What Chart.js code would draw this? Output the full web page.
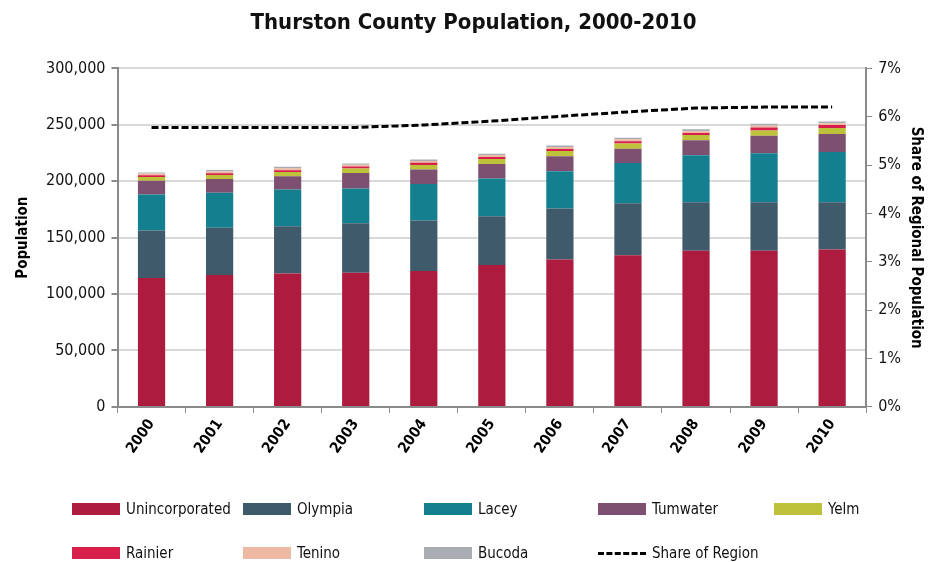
<!DOCTYPE html>
<html>
<head>
<meta charset="utf-8">
<script src="https://cdn.jsdelivr.net/npm/chart.js@4"></script>
<style>
  html, body { margin: 0; padding: 0; background: #fff; }
  #wrap { position: relative; width: 937px; height: 562px; }
  #legend { position: absolute; left: 0; top: 0; width: 937px; height: 562px; pointer-events: none;
            font-family: 'Liberation Sans Narrow', 'DejaVu Sans Condensed', sans-serif; font-size: 15px; color: #111; }
  .item { position: absolute; display: flex; align-items: center; white-space: nowrap; }
  .box { width: 48px; height: 12px; margin-right: 6px; }
  .dash { width: 48px; height: 0; border-top: 3px dashed #000; margin-right: 6px; }
</style>
</head>
<body>
<div id="wrap">
  <canvas id="popChart" width="937" height="562"></canvas>
  <div id="legend"></div>
</div>
<script>
const years = ['2000', '2001', '2002', '2003', '2004', '2005', '2006', '2007', '2008', '2009', '2010'];

// population by area (persons)
const unincorporated = [114200, 117000, 118300, 118900, 120400, 125700, 130700, 134500, 138300, 138300, 139600];
const olympia = [42200, 41700, 41900, 43900, 44800, 43300, 45100, 46000, 43100, 43100, 41800];
const lacey = [31800, 31000, 32400, 30700, 32400, 33400, 33000, 35700, 41600, 43400, 44500];
const tumwater = [12300, 12300, 11800, 13900, 12700, 12900, 13300, 12700, 13300, 15600, 16000];
const yelm = [3300, 3500, 3700, 3900, 4200, 4400, 4600, 4600, 4600, 4600, 5300];
const rainier = [1500, 1600, 1700, 1700, 1800, 1800, 1900, 1900, 1900, 2600, 2600];
const tenino = [1500, 1600, 1700, 1600, 1700, 1700, 1800, 1800, 1600, 1700, 1600];
const bucoda = [1000, 1200, 1300, 1200, 1200, 1200, 1300, 1300, 1700, 1600, 1600];

// county share of regional population (%)
const shareOfRegion = [5.78, 5.78, 5.78, 5.78, 5.83, 5.91, 6.01, 6.10, 6.18, 6.20, 6.20];

const popTicks = [0, 50000, 100000, 150000, 200000, 250000, 300000];

const fontFam = "'Liberation Sans Narrow', 'DejaVu Sans Condensed', sans-serif";

function bar(label, data, color) {
    return { type: 'bar', label: label, data: data, backgroundColor: color, yAxisID: 'y', order: 1 };
}

const chart = new Chart(document.getElementById('popChart').getContext('2d'), {
    data: {
        labels: years,
        datasets: [
            bar('Unincorporated', unincorporated, '#AD1C3E'),
            bar('Olympia', olympia, '#3F5A6B'),
            bar('Lacey', lacey, '#14808F'),
            bar('Tumwater', tumwater, '#7D4F70'),
            bar('Yelm', yelm, '#BEC13A'),
            bar('Rainier', rainier, '#D81E4A'),
            bar('Tenino', tenino, '#EDB9A2'),
            bar('Bucoda', bucoda, '#A9ADB3'),
            {
                type: 'line',
                label: 'Share of Region',
                data: shareOfRegion,
                yAxisID: 'y1',
                borderColor: '#000',
                borderWidth: 3,
                borderDash: [7, 3],
                pointRadius: 0,
                fill: false,
                order: 0
            }
        ]
    },
    options: {
        responsive: false,
        animation: false,
        datasets: { bar: { barPercentage: 0.4, categoryPercentage: 1.0 } },
        layout: { padding: { left: 14, right: 4, top: 0, bottom: 102 } },
        plugins: {
            legend: { display: false },
            tooltip: { enabled: false },
            title: {
                display: true,
                text: 'Thurston County Population, 2000-2010',
                color: '#111',
                font: { family: fontFam, size: 22, weight: 'bold' },
                padding: { top: 10, bottom: 32 }
            }
        },
        scales: {
            x: {
                stacked: true,
                grid: { offset: true, drawOnChartArea: false, drawTicks: true, tickLength: 6, color: '#8a8a8a' },
                border: { color: '#8a8a8a', width: 2 },
                ticks: {
                    color: '#000',
                    minRotation: 55,
                    maxRotation: 55,
                    font: { family: fontFam, size: 15, weight: 'bold' }
                }
            },
            y: {
                stacked: true,
                position: 'left',
                min: 0,
                max: 300000,
                afterBuildTicks: axis => { axis.ticks = popTicks.map(v => ({ value: v })); },
                grid: { color: '#d9d9d9', lineWidth: 2, tickLength: 6, tickColor: '#8a8a8a' },
                border: { color: '#8a8a8a', width: 2 },
                ticks: {
                    color: '#111',
                    padding: 6,
                    font: { family: fontFam, size: 16 },
                    callback: v => v.toLocaleString('en-US')
                },
                title: {
                    display: true,
                    text: 'Population',
                    color: '#000',
                    font: { family: fontFam, size: 15, weight: 'bold' },
                    padding: { top: 0, bottom: 8 }
                }
            },
            y1: {
                position: 'right',
                min: 0,
                max: 7,
                ticks: {
                    stepSize: 1,
                    color: '#111',
                    padding: 6,
                    font: { family: fontFam, size: 16 },
                    callback: v => v + '%'
                },
                grid: { drawOnChartArea: false, tickLength: 6, color: '#8a8a8a' },
                border: { color: '#8a8a8a', width: 2 },
                title: {
                    display: true,
                    text: 'Share of Regional Population',
                    color: '#000',
                    font: { family: fontFam, size: 15, weight: 'bold' },
                    padding: { top: 8, bottom: 0 }
                }
            }
        }
    }
});

// legend laid out in a 5-column grid like the original
const legendCols = [72, 243, 424, 598, 774];
const legendRows = [510, 554];
const legendEl = document.getElementById('legend');
chart.data.datasets.forEach((ds, i) => {
    const item = document.createElement('div');
    item.className = 'item';
    item.style.left = legendCols[i % 5] + 'px';
    item.style.top = (legendRows[Math.floor(i / 5)] - 10) + 'px';
    const sw = document.createElement('div');
    if (ds.type === 'line') {
        sw.className = 'dash';
    } else {
        sw.className = 'box';
        sw.style.background = ds.backgroundColor;
    }
    const txt = document.createElement('span');
    txt.textContent = ds.label;
    item.appendChild(sw);
    item.appendChild(txt);
    legendEl.appendChild(item);
});
</script>
</body>
</html>
